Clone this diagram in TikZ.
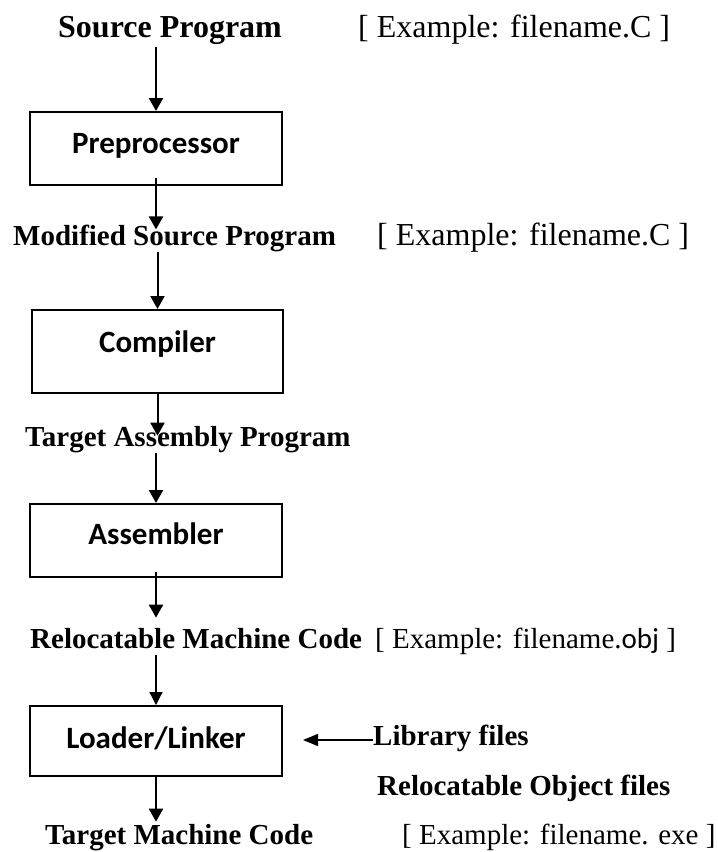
\documentclass[tikz,border=0pt]{standalone}
\usepackage{fontspec}
\setmainfont{Liberation Serif}
\newfontfamily\calibrifont{Carlito}
\usetikzlibrary{arrows.meta}

\begin{document}
\begin{tikzpicture}[x=1pt,y=-1pt,
  filelabel/.style={inner sep=0pt,anchor=base west,
    font=\fontsize{29}{29}\selectfont\bfseries},
  exlabel/.style={inner sep=0pt,anchor=base west,
    font=\fontsize{29}{29}\selectfont},
  stage/.style={draw,line width=2pt,inner sep=0pt,minimum width=252pt,
    text height=20pt,font=\calibrifont\fontsize{31}{31}\selectfont\bfseries},
  flow/.style={line width=2pt,-{Triangle[length=13pt,width=14pt]}},
  thinflow/.style={line width=1.3pt,-{Triangle[length=13pt,width=13pt]}},
  libflow/.style={line width=1.5pt,-{Triangle[length=15pt,width=12pt]}}]

\useasboundingbox (0,0) rectangle (718,852);

% files on the left, examples on the right
\node[filelabel,font=\fontsize{32}{32}\selectfont\bfseries] (src) at (58,37) {Source Program};
\node[exlabel,font=\fontsize{32}{32}\selectfont] (exsrc) at (358,37) {[ Example: filename.C ]};

\node[stage,minimum height=73pt,text depth=11pt] (prep) at (156,148.5) {Preprocessor};

\node[filelabel] (modsrc) at (13,245) {Modified Source Program};
\node[exlabel,font=\fontsize{32}{32}\selectfont] (exmod) at (377,245) {[ Example: filename.C ]};

\node[stage,minimum height=83pt,minimum width=251pt,text depth=19pt] (comp) at (157.5,351.5) {Compiler};

\node[filelabel] (tasm) at (25,446) {Target Assembly Program};

\node[stage,minimum height=73pt,text depth=13pt] (asm) at (156,540.5) {Assembler};

\node[filelabel] (reloc) at (30,648) {Relocatable Machine Code};
\node[exlabel] (exobj) at (375,648) {[ Example: filename.{\calibrifont obj} ]};

\node[stage,minimum height=70pt,text depth=6pt] (load) at (156,741) {Loader/Linker};

\node[filelabel] (lib) at (373,745) {Library files};
\node[filelabel] (relobj) at (377,795) {Relocatable Object files};

\node[filelabel] (tmc) at (45,844) {Target Machine Code};
\node[exlabel] (exexe) at (402,844) {[ Example: filename. exe ]};

% arrows
\draw[flow] ([yshift=-3pt]src.south -| prep.north) -- (prep.north);
\draw[flow] ([yshift=8pt]prep.south) -- ([yshift=-5pt]modsrc.north -| prep.south);
\draw[flow] (modsrc.south -| comp.north) -- (comp.north);
\draw[flow] ([yshift=1pt]comp.south) -- ([yshift=-10pt]tasm.north -| comp.south);
\draw[flow] (tasm.south -| asm.north) -- (asm.north);
\draw[flow] ([yshift=6pt]asm.south) -- ([yshift=10pt]reloc.north -| asm.south);
\draw[thinflow] ([yshift=-7pt]reloc.south -| load.north) -- (load.north);
\draw[flow] (load.south) -- ([yshift=2pt]tmc.north -| load.south);
\draw[libflow] ([yshift=5pt]lib.base west) -- ++(-70,0);

\end{tikzpicture}
\end{document}
